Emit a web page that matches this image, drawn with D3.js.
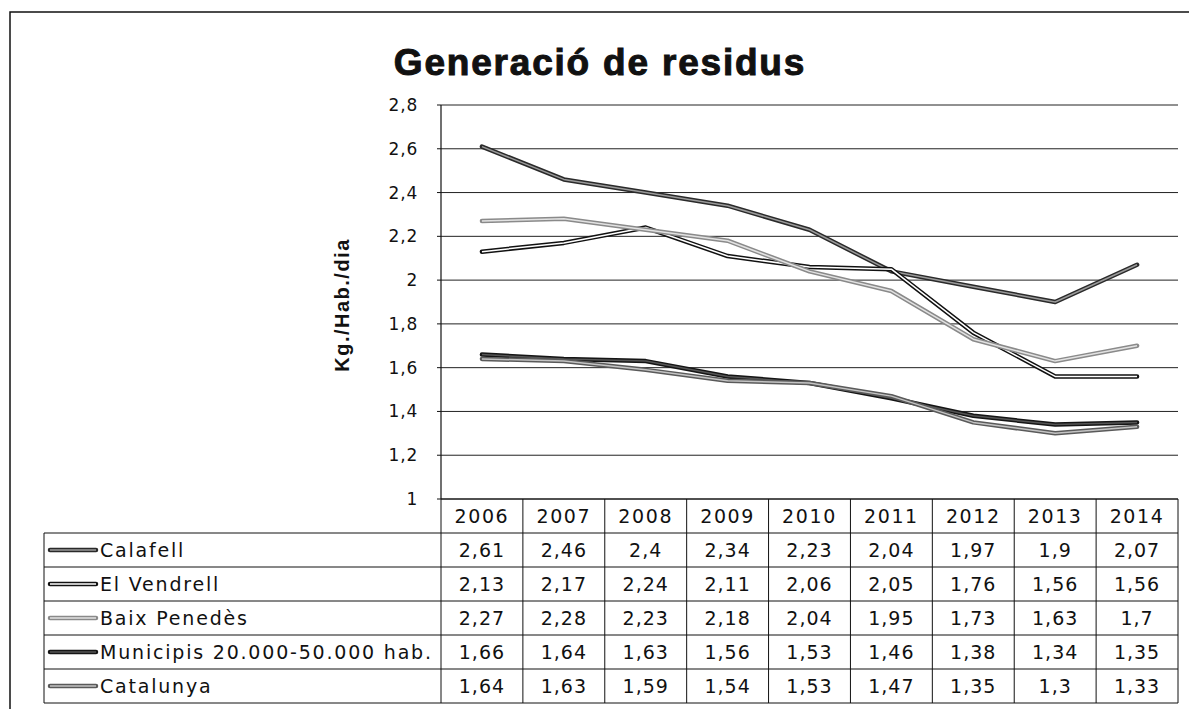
<!DOCTYPE html>
<html><head><meta charset="utf-8">
<script src="https://cdn.jsdelivr.net/npm/d3@7"></script>
<style>body{margin:0;background:#fff;}svg{display:block;}</style>
</head><body>
<svg id="c" width="1189" height="709"></svg>
<script>
const title = "Generació de residus";
const yLabel = "Kg./Hab./dia";
const years = ["2006","2007","2008","2009","2010","2011","2012","2013","2014"];
const seriesNames = ["Calafell","El Vendrell","Baix Penedès","Municipis 20.000-50.000 hab.","Catalunya"];
const calafell   = [2.61,2.46,2.4,2.34,2.23,2.04,1.97,1.9,2.07];
const elVendrell = [2.13,2.17,2.24,2.11,2.06,2.05,1.76,1.56,1.56];
const baixPenedes= [2.27,2.28,2.23,2.18,2.04,1.95,1.73,1.63,1.7];
const municipis  = [1.66,1.64,1.63,1.56,1.53,1.46,1.38,1.34,1.35];
const catalunya  = [1.64,1.63,1.59,1.54,1.53,1.47,1.35,1.3,1.33];
const yTicks = [1,1.2,1.4,1.6,1.8,2,2.2,2.4,2.6,2.8];

const seriesValues = [calafell, elVendrell, baixPenedes, municipis, catalunya];
const styles = [
  {outer:"#2a2a2a", inner:"#9a9a9a"},
  {outer:"#111",    inner:"#fff"},
  {outer:"#8a8a8a", inner:"#e2e2e2"},
  {outer:"#151515", inner:"#555"},
  {outer:"#5a5a5a", inner:"#c4c4c4"}
];
const fmt = v => String(v).replace(".", ",");

const svg = d3.select("#c");
const L = 441, R = 1178, T = 105, B = 499;
const x = d3.scaleBand().domain(years).range([L, R]);
const y = d3.scaleLinear().domain([1, 2.8]).range([B, T]);
const rows = ["header", ...seriesNames];
const ry = d3.scaleBand().domain(rows).range([499, 703]);

// outer frame
svg.append("path").attr("d", "M10,709 V12 H1189").attr("fill","none").attr("stroke","#111").attr("stroke-width",1.5);

// title
svg.append("text").attr("x", 600).attr("y", 75).attr("text-anchor","middle")
  .attr("font-family","Liberation Sans, Arial, sans-serif").attr("font-weight","bold")
  .attr("font-size", 37).attr("letter-spacing", 1.8).attr("fill","#111").attr("stroke","#111").attr("stroke-width",1)
  .text(title);

// gridlines
svg.append("g").selectAll("line").data(yTicks).join("line")
  .attr("x1", L).attr("x2", R).attr("y1", d => y(d)).attr("y2", d => y(d))
  .attr("stroke", "#222").attr("stroke-width", 1);
// left axis
svg.append("line").attr("x1", L).attr("x2", L).attr("y1", T).attr("y2", B).attr("stroke","#111").attr("stroke-width",1.2);
svg.append("g").selectAll("line").data(yTicks).join("line")
  .attr("x1", L-4).attr("x2", L).attr("y1", d => y(d)).attr("y2", d => y(d)).attr("stroke","#111");

// tick labels
svg.append("g").selectAll("text").data(yTicks).join("text")
  .attr("x", 418).attr("y", d => y(d) + 6).attr("text-anchor","end")
  .attr("font-family","DejaVu Sans, sans-serif").attr("font-size", 17).attr("letter-spacing", 0.8)
  .attr("fill","#111").text(d => fmt(d));

// y label
svg.append("text").attr("transform","translate(349,305) rotate(-90)").attr("text-anchor","middle")
  .attr("font-family","Liberation Sans, Arial, sans-serif").attr("font-weight","bold")
  .attr("font-size", 20).attr("letter-spacing", 1.5).attr("fill","#111").text(yLabel);

// lines
const line = d3.line().x((d,i) => x(years[i]) + x.bandwidth()/2).y(d => y(d));
const lg = svg.append("g");
seriesValues.forEach((vals, k) => {
  lg.append("path").attr("d", line(vals)).attr("fill","none")
    .attr("stroke", styles[k].outer).attr("stroke-width", 4.5).attr("stroke-linejoin","round").attr("stroke-linecap","round");
  lg.append("path").attr("d", line(vals)).attr("fill","none")
    .attr("stroke", styles[k].inner).attr("stroke-width", 1.5).attr("stroke-linejoin","round");
});

// table
const tg = svg.append("g");
const gridStroke = "#111";
tg.append("line").attr("x1", L).attr("x2", R).attr("y1", ry("header")).attr("y2", ry("header")).attr("stroke", gridStroke);
seriesNames.forEach(n => {
  tg.append("line").attr("x1", 44).attr("x2", R).attr("y1", ry(n)).attr("y2", ry(n)).attr("stroke", gridStroke);
});
tg.append("line").attr("x1", 44).attr("x2", R).attr("y1", 703).attr("y2", 703).attr("stroke", gridStroke);
tg.append("line").attr("x1", 44).attr("x2", 44).attr("y1", ry(seriesNames[0])).attr("y2", 703).attr("stroke", gridStroke);
years.forEach(yr => {
  tg.append("line").attr("x1", x(yr)).attr("x2", x(yr)).attr("y1", ry("header")).attr("y2", 703).attr("stroke", gridStroke);
});
tg.append("line").attr("x1", R).attr("x2", R).attr("y1", ry("header")).attr("y2", 703).attr("stroke", gridStroke);

const cellFont = "DejaVu Sans, sans-serif";
tg.append("g").selectAll("text").data(years).join("text")
  .attr("x", d => x(d) + x.bandwidth()/2).attr("y", ry("header") + ry.bandwidth()/2 + 7)
  .attr("text-anchor","middle").attr("font-family", cellFont).attr("font-size", 19).attr("letter-spacing", 1.6)
  .attr("fill","#111").text(d => d);
seriesNames.forEach((n, k) => {
  const cy = ry(n) + ry.bandwidth()/2;
  tg.append("line").attr("x1", 50).attr("x2", 96).attr("y1", cy).attr("y2", cy)
    .attr("stroke", styles[k].outer).attr("stroke-width", 4.5).attr("stroke-linecap","round");
  tg.append("line").attr("x1", 50).attr("x2", 96).attr("y1", cy).attr("y2", cy)
    .attr("stroke", styles[k].inner).attr("stroke-width", 1.5);
  tg.append("text").attr("x", 100).attr("y", cy + 7)
    .attr("font-family", cellFont).attr("font-size", 19).attr("letter-spacing", 1.8)
    .attr("fill","#111").text(n);
  tg.append("g").selectAll("text").data(seriesValues[k]).join("text")
    .attr("x", (d,i) => x(years[i]) + x.bandwidth()/2).attr("y", cy + 7)
    .attr("text-anchor","middle").attr("font-family", cellFont).attr("font-size", 19).attr("letter-spacing", 1)
    .attr("fill","#111").text(d => fmt(d));
});
</script>
</body></html>
